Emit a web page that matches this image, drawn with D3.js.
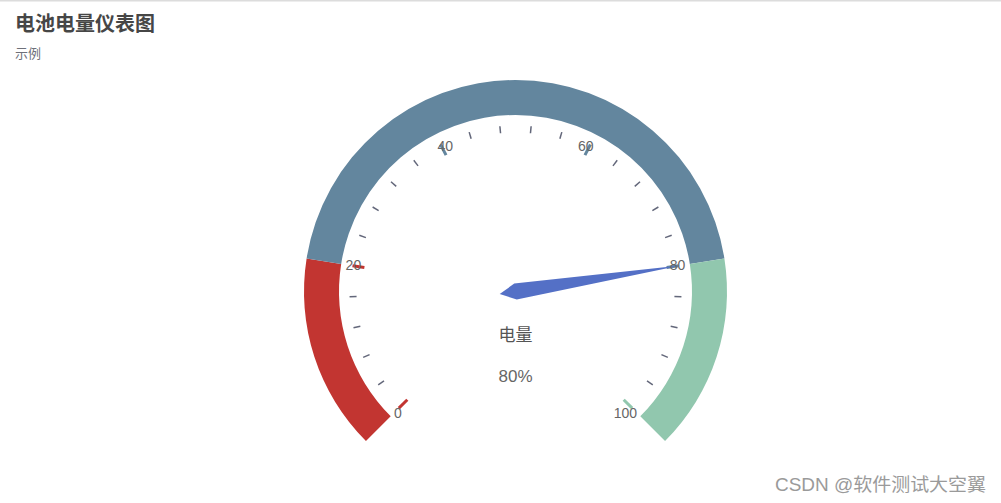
<!DOCTYPE html>
<html>
<head>
<meta charset="utf-8">
<script src="https://cdn.jsdelivr.net/npm/d3@7"></script>
<style>
  body { margin: 0; background: #fff; }
  svg { display: block; font-family: "Liberation Sans", Arial, "Noto Sans CJK SC", sans-serif; }
</style>
</head>
<body>
<svg id="chart"></svg>
<script>
// gauge data
let gaugeMin = 0;
let gaugeMax = 100;
let bandStops = [0, 20, 80, 100];
let bandColors = ["#c23531", "#63869e", "#91c7ae"];
let splitValues = [0, 20, 40, 60, 80, 100];
let tickLabels = ["0", "20", "40", "60", "80", "100"];
let minorStep = 4;
let seriesName = "电量";
let seriesValue = 80;

let width = 1001;
let height = 503;

let svg = d3.select("#chart")
    .attr("width", width)
    .attr("height", height);

svg.append("rect")
    .attr("x", 0).attr("y", 0)
    .attr("width", width).attr("height", 1.5)
    .attr("fill", "#dcdcdc");

// titles
svg.append("text")
    .attr("x", 15).attr("y", 31)
    .attr("font-size", 20).attr("font-weight", "bold")
    .attr("font-family", "'Noto Sans CJK SC', sans-serif")
    .attr("fill", "#464646")
    .text("电池电量仪表图");
svg.append("text")
    .attr("x", 15).attr("y", 57.5)
    .attr("font-size", 13)
    .attr("font-family", "'Noto Sans CJK SC', sans-serif")
    .attr("fill", "#6e7079")
    .text("示例");

let cx = 515.5;
let cy = 291.5;
let rOuter = 211.5;
let bandW = 35;

// value -> angle (d3 convention, clockwise from 12 o'clock)
let angle = d3.scaleLinear()
    .domain([gaugeMin, gaugeMax])
    .range([-135 * Math.PI / 180, 135 * Math.PI / 180]);

let pt = (v, r) => [cx + r * Math.sin(angle(v)), cy - r * Math.cos(angle(v))];

let g = svg.append("g");

let arc = d3.arc()
    .innerRadius(rOuter - bandW)
    .outerRadius(rOuter);

let bands = bandColors.map((c, i) => ({from: bandStops[i], to: bandStops[i + 1], color: c}));

g.selectAll(".band")
    .data(bands)
    .enter()
    .append("path")
    .attr("transform", `translate(${cx},${cy})`)
    .attr("d", d => arc({startAngle: angle(d.from), endAngle: angle(d.to)}))
    .attr("fill", d => d.color);

let colorAt = v => bands.find(b => v <= b.to).color;

// minor ticks
let minor = d3.range(gaugeMin, gaugeMax + 1, minorStep).filter(v => splitValues.indexOf(v) < 0);
g.selectAll(".tick")
    .data(minor)
    .enter()
    .append("line")
    .attr("x1", d => pt(d, 159)[0]).attr("y1", d => pt(d, 159)[1])
    .attr("x2", d => pt(d, 166)[0]).attr("y2", d => pt(d, 166)[1])
    .attr("stroke", "#63677a")
    .attr("stroke-width", 1.5);

// split lines
g.selectAll(".split")
    .data(splitValues)
    .enter()
    .append("line")
    .attr("x1", d => pt(d, 153)[0]).attr("y1", d => pt(d, 153)[1])
    .attr("x2", d => pt(d, 165)[0]).attr("y2", d => pt(d, 165)[1])
    .attr("stroke", d => colorAt(d))
    .attr("stroke-width", 3);

// pointer
let pw = 8;
let plen = 167;
let a = angle(seriesValue);
let ux = Math.sin(a), uy = -Math.cos(a);
let pointerPts = [
    [cx - ux * pw * 2, cy - uy * pw * 2],
    [cx - uy * pw, cy + ux * pw],
    [cx + ux * plen, cy + uy * plen],
    [cx + uy * pw, cy - ux * pw]
];
g.append("path")
    .attr("d", d3.line()(pointerPts) + "Z")
    .attr("fill", "#5470c6");

// axis labels, aligned like echarts: left side starts, right side ends
let labelR = 172;
g.selectAll(".lbl")
    .data(splitValues)
    .enter()
    .append("text")
    .attr("x", d => pt(d, labelR)[0])
    .attr("y", d => pt(d, labelR)[1])
    .attr("text-anchor", d => {
        let s = Math.sin(angle(d));
        return s < -0.3 ? "start" : (s > 0.3 ? "end" : "middle");
    })
    .attr("dominant-baseline", d => -Math.cos(angle(d)) < -0.8 ? "hanging" : "central")
    .attr("dy", d => -Math.cos(angle(d)) < -0.8 ? 2 : 0)
    .attr("font-size", 14)
    .attr("fill", "#666")
    .text((d, i) => tickLabels[i]);

// title and detail
g.append("text")
    .attr("x", cx).attr("y", cy + rOuter * 0.2)
    .attr("text-anchor", "middle").attr("dominant-baseline", "central")
    .attr("font-size", 17).attr("fill", "#555")
    .attr("font-family", "'Noto Sans CJK SC', sans-serif")
    .text(seriesName);
g.append("text")
    .attr("x", cx).attr("y", cy + rOuter * 0.4)
    .attr("text-anchor", "middle").attr("dominant-baseline", "central")
    .attr("font-size", 17).attr("fill", "#666")
    .text(seriesValue + "%");

// watermark
svg.append("text")
    .attr("x", 775).attr("y", 491)
    .attr("fill", "#9a9a9a")
    .attr("font-size", 18)
    .attr("textLength", 211).attr("lengthAdjust", "spacingAndGlyphs")
    .text("CSDN @软件测试大空翼");
</script>
</body>
</html>
